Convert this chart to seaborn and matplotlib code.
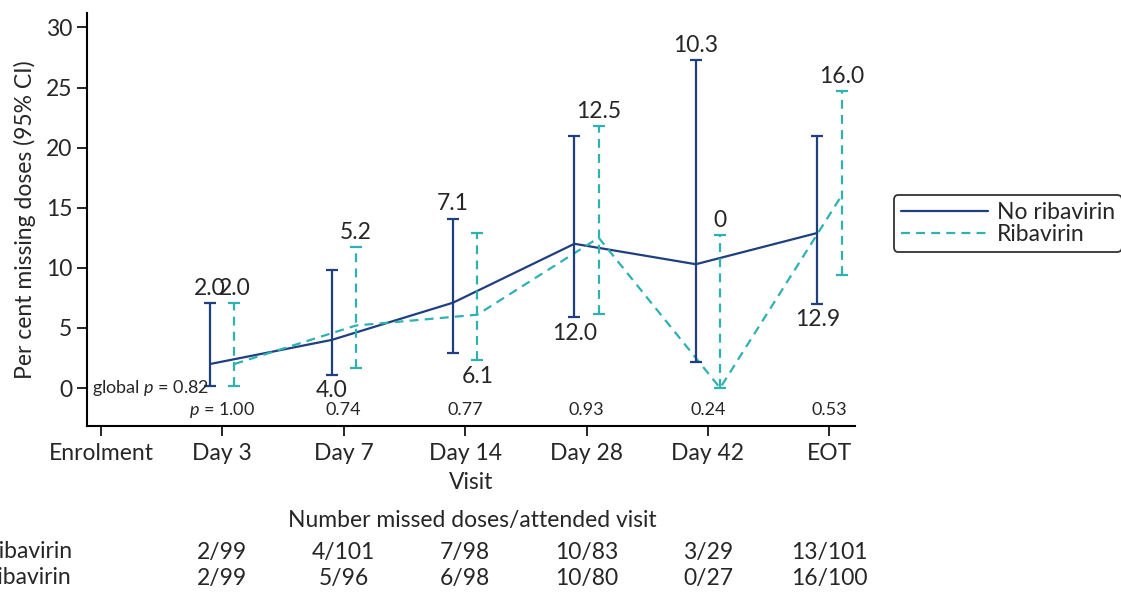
import numpy as np
import pandas as pd
import matplotlib
matplotlib.use("Agg")
import matplotlib.pyplot as plt
import seaborn as sns
from matplotlib.lines import Line2D

# --- data ---
visits = ["Enrolment", "Day 3", "Day 7", "Day 14", "Day 28", "Day 42", "EOT"]
groups = ["No ribavirin", "Ribavirin"]

no_rib_pct = [2.0, 4.0, 7.1, 12.0, 10.3, 12.9]
no_rib_lo = [0.2, 1.1, 2.9, 5.9, 2.2, 7.0]
no_rib_hi = [7.1, 9.8, 14.1, 21.0, 27.3, 21.0]

rib_pct = [2.0, 5.2, 6.1, 12.5, 0.0, 16.0]
rib_lo = [0.2, 1.7, 2.3, 6.2, 0.0, 9.4]
rib_hi = [7.1, 11.7, 12.9, 21.8, 12.7, 24.7]

# where each value label sits: above (+1) or below (-1) its CI
no_rib_label_side = [1, -1, 1, -1, 1, -1]
rib_label_side = [1, 1, -1, 1, 1, 1]
rib_label_text = ["2.0", "5.2", "6.1", "12.5", "0", "16.0"]

p_values = ["1.00", "0.74", "0.77", "0.93", "0.24", "0.53"]
global_p = "0.82"

no_rib_counts = ["2/99", "4/101", "7/98", "10/83", "3/29", "13/101"]
rib_counts = ["2/99", "5/96", "6/98", "10/80", "0/27", "16/100"]

navy = "#1F3F7E"
teal = "#2EB1B1"
offset = 0.1
fs = 16.5
fs_small = 13
dash = (4, 2.8)

sns.set_style("ticks")
plt.rcParams["font.family"] = ["Lato", "DejaVu Sans"]
plt.rcParams["font.size"] = fs
plt.rcParams["mathtext.fontset"] = "custom"
plt.rcParams["mathtext.it"] = "Lato:italic"
plt.rcParams["mathtext.rm"] = "Lato"

pos = np.arange(1, len(visits))
df = pd.DataFrame({
    "x": np.concatenate([pos - offset, pos + offset]),
    "pct": no_rib_pct + rib_pct,
    "group": [groups[0]] * len(pos) + [groups[1]] * len(pos),
})

fig = plt.figure(figsize=(11.21, 5.92), dpi=100)
ax = fig.add_axes([0.0776, 0.2804, 0.685, 0.6976])

sns.lineplot(data=df, x="x", y="pct", hue="group", style="group",
             palette={groups[0]: navy, groups[1]: teal},
             dashes={groups[0]: "", groups[1]: dash},
             linewidth=1.6, ax=ax, legend=False, sort=False)

series = [
    (pos - offset, no_rib_pct, no_rib_lo, no_rib_hi, navy, "-"),
    (pos + offset, rib_pct, rib_lo, rib_hi, teal, (0, dash)),
]
for xs, pct, lo, hi, col, ls in series:
    pct = np.array(pct)
    err = np.vstack([pct - np.array(lo), np.array(hi) - pct])
    _, caps, bars = ax.errorbar(xs, pct, yerr=err, fmt="none", ecolor=col,
                                elinewidth=1.6, capsize=4.5, capthick=1.6)
    for b in bars:
        b.set_linestyle(ls)

# value labels
for i, x in enumerate(pos - offset):
    if no_rib_label_side[i] > 0:
        ax.annotate(f"{no_rib_pct[i]:.1f}", (x, no_rib_hi[i]), xytext=(0, 3),
                    textcoords="offset points", ha="center", va="bottom", fontsize=fs)
    else:
        ax.annotate(f"{no_rib_pct[i]:.1f}", (x, no_rib_lo[i]), xytext=(0, -4),
                    textcoords="offset points", ha="center", va="top", fontsize=fs)
for i, x in enumerate(pos + offset):
    if rib_label_side[i] > 0:
        ax.annotate(rib_label_text[i], (x, rib_hi[i]), xytext=(0, 3),
                    textcoords="offset points", ha="center", va="bottom", fontsize=fs)
    else:
        ax.annotate(rib_label_text[i], (x, rib_lo[i]), xytext=(0, -4),
                    textcoords="offset points", ha="center", va="top", fontsize=fs)

# p-values
ax.text(-0.075, 0, f"global $p$ = {global_p}", ha="left", va="center", fontsize=fs_small)
for i, x in enumerate(pos):
    txt = f"$p$ = {p_values[i]}" if i == 0 else p_values[i]
    ax.text(x, -1.85, txt, ha="center", va="center", fontsize=fs_small)

ax.set_xlim(-0.115, 6.21)
ax.set_ylim(-3.16, 31.2)
ax.set_yticks(range(0, 31, 5))
ax.set_xticks(range(len(visits)))
ax.set_xticklabels(visits)
ax.set_xlabel("Visit", fontsize=fs, labelpad=6)
ax.set_ylabel("Per cent missing doses (95% CI)", fontsize=fs, labelpad=7)
ax.tick_params(axis="both", labelsize=fs, length=7, width=1.2, color="black")
ax.tick_params(axis="x", pad=5)
for s in ["left", "bottom"]:
    ax.spines[s].set_linewidth(1.5)
    ax.spines[s].set_color("black")
sns.despine(ax=ax)

# legend
handles = [Line2D([], [], color=navy, lw=1.6),
           Line2D([], [], color=teal, lw=1.6, ls=(0, dash))]
leg = fig.legend(handles, groups, loc="upper left", bbox_to_anchor=(0.787, 0.690),
                 fontsize=fs, handlelength=3.8, frameon=True, fancybox=True,
                 edgecolor="black", borderpad=0.3, labelspacing=0.05, handletextpad=0.4)
leg.get_frame().set_linewidth(1.3)

# table of counts below the axis
fig.text(0.421, 1 - 521 / 592, "Number missed doses/attended visit", ha="center",
         va="center", fontsize=fs)
row_y = [1 - 552 / 592, 1 - 578 / 592]
for y, name, counts in zip(row_y, groups, [no_rib_counts, rib_counts]):
    fig.text(72 / 1121, y, name, ha="right", va="center", fontsize=fs)
    for i, x in enumerate(pos):
        xf = fig.transFigure.inverted().transform(ax.transData.transform((x, 0)))[0]
        fig.text(xf, y, counts[i], ha="center", va="center", fontsize=fs)

fig.savefig("out.png", dpi=100)
